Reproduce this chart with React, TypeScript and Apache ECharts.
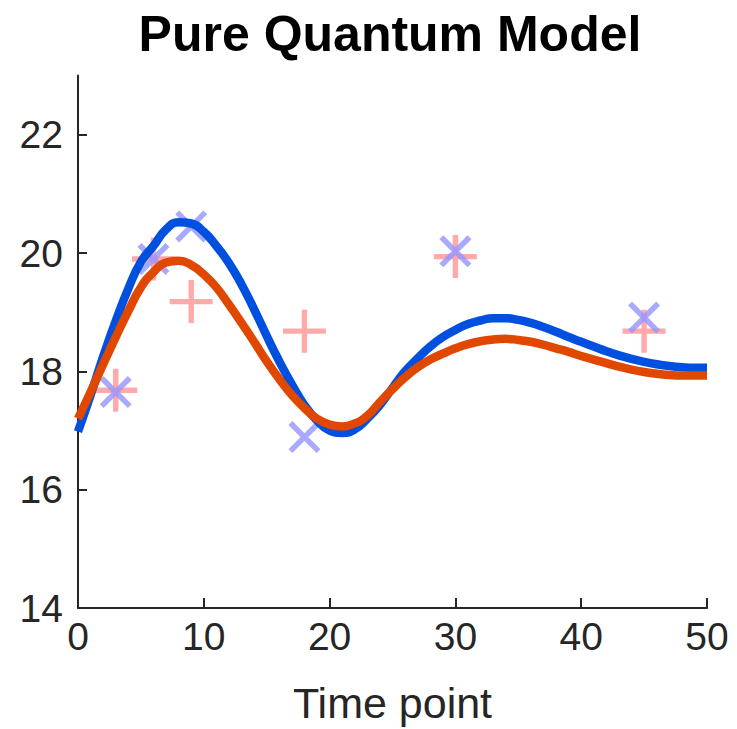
import React, { useEffect, useRef } from "react";
import * as echarts from "echarts";

const timeGrid = [
  0, 1, 2, 3, 4, 5, 6, 7, 8, 9, 10, 11, 12, 13, 14, 15, 16, 17, 18, 19, 20, 21, 22, 23, 24, 25,
  26, 27, 28, 29, 30, 31, 32, 33, 34, 35, 36, 37, 38, 39, 40, 41, 42, 43, 44, 45, 46, 47, 48, 49, 50,
];
const blueModel = [
  16.98, 17.6, 18.25, 18.85, 19.4, 19.85, 20.12, 20.4, 20.52, 20.5, 20.36, 20.12, 19.83, 19.47,
  19.05, 18.6, 18.17, 17.78, 17.43, 17.17, 17.0, 16.96, 17.02, 17.2, 17.43, 17.72, 18.0, 18.22,
  18.42, 18.58, 18.7, 18.8, 18.86, 18.9, 18.9, 18.87, 18.82, 18.75, 18.67, 18.58, 18.5, 18.42,
  18.34, 18.27, 18.21, 18.16, 18.12, 18.09, 18.07, 18.06, 18.06,
];
const redModel = [
  17.2, 17.65, 18.12, 18.58, 19.02, 19.42, 19.68, 19.84, 19.87, 19.8, 19.64, 19.42, 19.13, 18.82,
  18.5, 18.17, 17.87, 17.6, 17.38, 17.2, 17.1, 17.07, 17.12, 17.25, 17.48, 17.7, 17.9, 18.07, 18.2,
  18.3, 18.39, 18.46, 18.51, 18.54, 18.55, 18.53, 18.5, 18.45, 18.39, 18.33, 18.26, 18.2, 18.14,
  18.08, 18.03, 17.99, 17.96, 17.94, 17.93, 17.93, 17.93,
];
const obsTimes = [3, 6, 9, 18, 30, 45];
const redObs = [17.68, 19.9, 19.18, 18.68, 19.94, 18.68];
const blueObs = [17.65, 19.9, 20.45, 16.89, 20.03, 18.91];
const xTicks = [0, 10, 20, 30, 40, 50];
const yTicks = [14, 16, 18, 20, 22];

const PLUS =
  "path://M19.25,0 H24.75 V19.25 H44 V24.75 H24.75 V44 H19.25 V24.75 H0 V19.25 H19.25 Z";
const CROSS =
  "path://M0,3.9 L3.9,0 L32,28.1 L28.1,32 Z M28.1,0 L32,3.9 L3.9,32 L0,28.1 Z";

const FONT = "'Liberation Sans', Arial, Helvetica, sans-serif";
const AXIS_COLOR = "#262626";

export default function App() {
  const ref = useRef<HTMLDivElement>(null);
  useEffect(() => {
    document.body.style.margin = "0";
    if (!ref.current) return;
    const chart = echarts.init(ref.current, undefined, { renderer: "svg" });
    const pair = (xs: number[], ys: number[]) => xs.map((x, i) => [x, ys[i]]);
    chart.setOption({
      animation: false,
      backgroundColor: "#ffffff",
      grid: { left: 78, right: 30, top: 75.6, bottom: 119, containLabel: false },
      graphic: [
        {
          type: "text",
          x: 390,
          y: 9,
          style: {
            text: "Pure Quantum Model",
            fontFamily: FONT,
            fontWeight: "bold",
            fontSize: 50,
            fill: "#000000",
            textAlign: "center",
            textVerticalAlign: "top",
          },
        },
      ],
      xAxis: {
        type: "value",
        min: 0,
        max: 50,
        interval: 10,
        name: "Time point",
        nameLocation: "middle",
        nameGap: 73,
        nameTextStyle: { fontFamily: FONT, fontSize: 43, color: AXIS_COLOR },
        axisLine: { show: true, lineStyle: { color: AXIS_COLOR, width: 2 } },
        axisTick: {
          show: true,
          inside: true,
          length: 10,
          lineStyle: { color: AXIS_COLOR, width: 2 },
          customValues: xTicks,
        },
        axisLabel: {
          fontFamily: FONT,
          fontSize: 39,
          color: AXIS_COLOR,
          margin: 9,
          customValues: xTicks,
        },
        splitLine: { show: false },
      },
      yAxis: {
        type: "value",
        min: 14,
        max: 23,
        interval: 2,
        axisLine: { show: true, lineStyle: { color: AXIS_COLOR, width: 2 } },
        axisTick: {
          show: true,
          inside: true,
          length: 9,
          lineStyle: { color: AXIS_COLOR, width: 2 },
          customValues: yTicks,
        },
        axisLabel: {
          fontFamily: FONT,
          fontSize: 39,
          color: AXIS_COLOR,
          margin: 15,
          customValues: yTicks,
        },
        splitLine: { show: false },
      },
      series: [
        {
          type: "line",
          data: pair(timeGrid, blueModel),
          smooth: true,
          showSymbol: false,
          lineStyle: { color: "#0050e0", width: 8.5 },
          emphasis: { disabled: true },
        },
        {
          type: "line",
          data: pair(timeGrid, redModel),
          smooth: true,
          showSymbol: false,
          lineStyle: { color: "#e04800", width: 8.5 },
          emphasis: { disabled: true },
        },
        {
          type: "scatter",
          data: pair(obsTimes, redObs),
          symbol: PLUS,
          symbolSize: 43,
          itemStyle: { color: "#ff9494" },
          emphasis: { disabled: true },
        },
        {
          type: "scatter",
          data: pair(obsTimes, blueObs),
          symbol: CROSS,
          symbolSize: 32,
          itemStyle: { color: "#9494ff" },
          emphasis: { disabled: true },
        },
      ],
    });
    return () => chart.dispose();
  }, []);
  return <div ref={ref} style={{ width: 737, height: 729 }} />;
}
